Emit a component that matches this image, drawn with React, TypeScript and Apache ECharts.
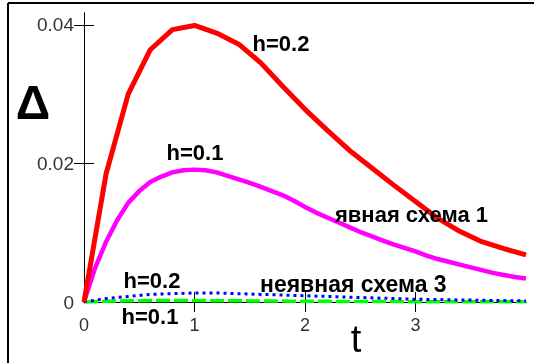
import React, { useEffect, useRef } from "react";
import * as echarts from "echarts";

// t grids
const tCoarse = [0, 0.2, 0.4, 0.6, 0.8, 1.0, 1.2, 1.4, 1.6, 1.8, 2.0, 2.2, 2.4, 2.6, 2.8, 3.0, 3.2, 3.4, 3.6, 3.8, 4.0];
const tFine = [0, 0.1, 0.2, 0.3, 0.4, 0.5, 0.6, 0.7, 0.8, 0.9, 1.0, 1.1, 1.2, 1.3, 1.4, 1.5, 1.6, 1.7, 1.8, 1.9, 2.0,
  2.1, 2.2, 2.3, 2.4, 2.5, 2.6, 2.7, 2.8, 2.9, 3.0, 3.1, 3.2, 3.3, 3.4, 3.5, 3.6, 3.7, 3.8, 3.9, 4.0];

// явная схема 1, h=0.2
const explicitH02 = [0, 0.0185, 0.0300, 0.0364, 0.0393, 0.0399, 0.0388, 0.0372, 0.0345, 0.0311, 0.0278,
  0.0248, 0.0219, 0.0194, 0.0169, 0.0145, 0.0121, 0.0102, 0.0087, 0.0077, 0.0068];
// явная схема 1, h=0.1
const explicitH01 = [0, 0.0049, 0.0087, 0.0118, 0.0143, 0.0160, 0.0173, 0.0181, 0.0187, 0.0190, 0.0191,
  0.0190, 0.0187, 0.0182, 0.0177, 0.0172, 0.0166, 0.0160, 0.0154, 0.0146, 0.0137,
  0.0129, 0.0122, 0.0115, 0.0108, 0.0101, 0.0095, 0.0089, 0.0083, 0.0078, 0.0073,
  0.0067, 0.0062, 0.0058, 0.0054, 0.0050, 0.0046, 0.0042, 0.0039, 0.0036, 0.0034];
// неявная схема 3, h=0.2
const implicitH02 = [0, 0.0005, 0.0008, 0.0011, 0.0012, 0.0013, 0.0013, 0.0012, 0.0011, 0.0010, 0.0009,
  0.0008, 0.0007, 0.0006, 0.0005, 0.0004, 0.00035, 0.0003, 0.00025, 0.0002, 0.00015];
// неявная схема 3, h=0.1
const implicitH01 = [0, 0.00005, 0.0001, 0.00014, 0.00017, 0.00019, 0.0002, 0.0002, 0.0002, 0.0002, 0.0002,
  0.0002, 0.00019, 0.00018, 0.00017, 0.00016, 0.00015, 0.00014, 0.00013, 0.00012, 0.00011,
  0.0001, 0.0001, 0.00009, 0.00008, 0.00008, 0.00007, 0.00006, 0.00006, 0.00005, 0.00005,
  0.00005, 0.00004, 0.00004, 0.00004, 0.00003, 0.00003, 0.00003, 0.00003, 0.00002, 0.00002];

const xLabelValues = [0, 1, 2, 3];
const xTickValues = [1, 2, 3];
const yLabelValues = [0, 0.02, 0.04];
const yTickValues = [0.02, 0.04];

const pairs = (ts: number[], vs: number[]) => ts.map((t, i) => [t, vs[i]]);

export default function App() {
  const ref = useRef<HTMLDivElement>(null);
  useEffect(() => {
    if (!ref.current) return;
    const chart = echarts.init(ref.current, undefined, { renderer: "svg" });
    const font = "Liberation Sans, Arial, sans-serif";
    const txt = (text: string, x: number, y: number, size: number, weight: any = "bold", align: any = "center") => ({
      type: "text",
      x,
      y,
      style: { text, fill: "#000", font: `${weight} ${size}px ${font}`, textAlign: align, textVerticalAlign: "middle" },
      z: 10,
    });
    const axisLine = { show: true, lineStyle: { color: "#000", width: 1 } };
    chart.setOption({
      animation: false,
      grid: { left: 84, right: 8, top: 13, bottom: 61 },
      xAxis: [
        {
          type: "value", min: 0, max: 4, interval: 1,
          axisLine,
          axisTick: { show: true, inside: true, length: 10, lineStyle: { color: "#000" }, customValues: xTickValues },
          splitLine: { show: false },
          axisLabel: {
            margin: 14, fontSize: 18, color: "#333", fontFamily: font,
            customValues: xLabelValues,
            formatter: (v: number) => String(v),
          },
        },
        {
          type: "value", position: "top", min: 0, max: 4, interval: 1,
          axisLine,
          axisTick: { show: true, inside: true, length: 10, lineStyle: { color: "#000" }, customValues: xTickValues },
          splitLine: { show: false }, axisLabel: { show: false },
        },
      ],
      yAxis: [
        {
          type: "value", min: 0, max: 0.0417, interval: 0.02,
          axisLine,
          axisTick: { show: true, inside: true, length: 10, lineStyle: { color: "#000" }, customValues: yTickValues },
          splitLine: { show: false },
          axisLabel: {
            margin: 10, fontSize: 19, color: "#333", fontFamily: font,
            padding: [6, 0, 0, 0],
            customValues: yLabelValues,
            formatter: (v: number) => (v === 0 ? "0" : v.toFixed(2)),
          },
        },
        {
          type: "value", position: "right", min: 0, max: 0.0417, interval: 0.02,
          axisLine,
          axisTick: { show: true, inside: true, length: 10, lineStyle: { color: "#000" }, customValues: yTickValues },
          splitLine: { show: false }, axisLabel: { show: false },
        },
      ],
      series: [
        { type: "line", data: pairs(tFine, implicitH01), symbol: "none", lineStyle: { color: "#00ff00", width: 3.5, type: [14, 4] }, z: 3 },
        { type: "line", data: pairs(tCoarse, implicitH02), symbol: "none", lineStyle: { color: "#0000ff", width: 3, type: [3, 4] }, z: 4 },
        { type: "line", data: pairs(tFine, explicitH01), symbol: "none", lineStyle: { color: "#ff00ff", width: 4.5 }, z: 5 },
        { type: "line", data: pairs(tCoarse, explicitH02), symbol: "none", lineStyle: { color: "#ff0000", width: 5 }, z: 6 },
      ],
      graphic: [
        { type: "line", shape: { x1: 8, y1: 3, x2: 534, y2: 3 }, style: { stroke: "#000", lineWidth: 2 } },
        { type: "line", shape: { x1: 8, y1: 3, x2: 8, y2: 363 }, style: { stroke: "#000", lineWidth: 2 } },
        txt("Δ", 33, 102, 48, "bold"),
        txt("t", 356, 339, 38, "normal"),
        txt("h=0.2", 281, 43, 22),
        txt("h=0.1", 195, 152, 22),
        txt("явная схема 1", 335, 214, 22, "bold", "left"),
        txt("неявная схема 3", 260, 284, 23, "bold", "left"),
        txt("h=0.2", 152, 280, 22),
        txt("h=0.1", 150, 316, 22),
      ],
    });
    return () => chart.dispose();
  }, []);
  return <div ref={ref} style={{ position: "fixed", left: 0, top: 0, width: 534, height: 363 }} />;
}
